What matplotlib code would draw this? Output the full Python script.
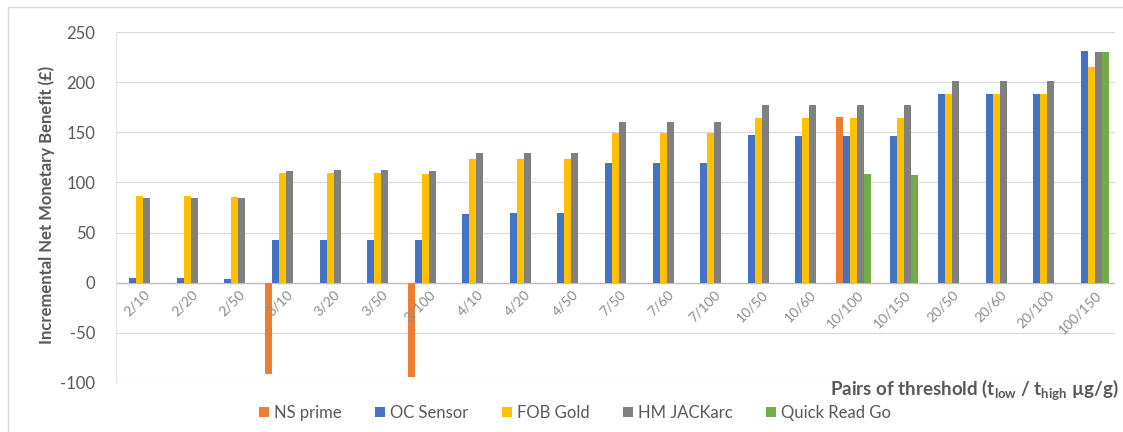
import numpy as np
import matplotlib
matplotlib.use("Agg")
import matplotlib.pyplot as plt
from matplotlib.patches import Rectangle

plt.rcParams['font.family'] = ['Lato', 'DejaVu Sans']
plt.rcParams['axes.unicode_minus'] = False

# threshold pairs (t_low / t_high)
pairs = ['2/10', '2/20', '2/50', '3/10', '3/20', '3/50', '3/100',
         '4/10', '4/20', '4/50', '7/50', '7/60', '7/100',
         '10/50', '10/60', '10/100', '10/150',
         '20/50', '20/60', '20/100', '100/150']

nan = np.nan
ns_prime = [nan, nan, nan, -91, nan, nan, -94,
            nan, nan, nan, nan, nan, nan,
            nan, nan, 165, nan,
            nan, nan, nan, nan]
oc_sensor = [5, 5, 4, 43, 43, 43, 43,
             69, 70, 70, 119, 119, 119,
             147, 146, 146, 146,
             188, 188, 188, 231]
fob_gold = [87, 87, 86, 109, 109, 109, 108,
            123, 123, 123, 149, 149, 149,
            164, 164, 164, 164,
            188, 188, 188, 215]
hm_jackarc = [85, 85, 85, 111, 112, 112, 111,
              129, 129, 129, 160, 160, 160,
              177, 177, 177, 177,
              201, 201, 201, 230]
quick_read = [nan, nan, nan, nan, nan, nan, nan,
              nan, nan, nan, nan, nan, nan,
              nan, nan, 108, 107,
              nan, nan, nan, 230]

series = [('NS prime', ns_prime, '#ED7D31'),
          ('OC Sensor', oc_sensor, '#4472C4'),
          ('FOB Gold', fob_gold, '#FFC000'),
          ('HM JACKarc', hm_jackarc, '#808080'),
          ('Quick Read Go', quick_read, '#70AD47')]

fig = plt.figure(figsize=(11.23, 4.32), dpi=100)
ax = fig.add_axes([116 / 1123, 1 - 382.5 / 432, (1115 - 116) / 1123, 350 / 432])

x = np.arange(len(pairs))
w = 0.147
for k, (name, vals, col) in enumerate(series):
    ax.bar(x + (k - 2) * w, vals, width=w, color=col, label=name, zorder=3)

ax.set_xlim(-0.5, len(pairs) - 0.5)
ax.set_ylim(-100, 250)
ax.set_yticks(np.arange(-100, 251, 50))
ax.grid(axis='y', color='#D9D9D9', lw=0.8, zorder=0)
ax.axhline(0, color='#BFBFBF', lw=1.0, zorder=2)
ax.set_xticks([])
ax.tick_params(axis='y', length=0, pad=15, labelsize=12, labelcolor='#595959')
for s in ['top', 'right', 'bottom']:
    ax.spines[s].set_visible(False)
ax.spines['left'].set_color('#E6E6E6')

# category labels sit just under the zero line
for i, lab in enumerate(pairs):
    ax.text(i + 0.08, -6, lab, rotation=45, ha='right', va='top',
            rotation_mode='anchor', fontsize=10, color='#8C8C8C')

fig.text(0.042, 0.525, 'Incremental Net Monetary Benefit (£)', rotation=90,
         ha='center', va='center', fontsize=12, fontweight='bold', color='#595959')
fig.text(830 / 1123, 1 - 390 / 432,
         r'Pairs of threshold (t$_{\mathregular{low}}$ / t$_{\mathregular{high}}$ µg/g)',
         ha='left', va='center', fontsize=13.5, fontweight='bold', color='#595959')

fig.legend(loc='center', bbox_to_anchor=(575 / 1123, 1 - 413 / 432), ncol=5,
           frameon=False, fontsize=12, handlelength=0.6, handleheight=0.6,
           handletextpad=0.3, columnspacing=2.0, labelcolor='#595959')

# chart area border
fig.add_artist(Rectangle((8 / 1123, -0.05), 1.1, 1.05 - 7 / 432,
                         transform=fig.transFigure, fill=False,
                         edgecolor='#D9D9D9', lw=1.0))

fig.savefig('out.png', dpi=100)
